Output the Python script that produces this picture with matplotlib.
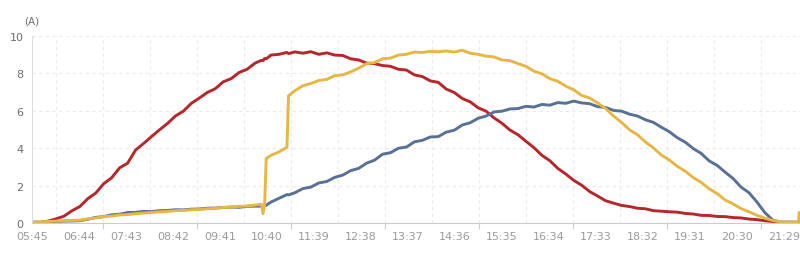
import matplotlib
matplotlib.use("Agg")
import matplotlib.pyplot as plt
import numpy as np

nan = float("nan")

times = [
    "05:45", "05:55", "06:05", "06:15", "06:25", "06:35", "06:45", "06:55", "07:05", "07:15",
    "07:25", "07:35", "07:45", "07:55", "08:05", "08:15", "08:25", "08:35", "08:45", "08:55",
    "09:05", "09:15", "09:25", "09:35", "09:45", "09:55", "10:05", "10:15", "10:25",
    "10:33", "10:35", "10:37", "10:39",
    "10:45", "10:55", "11:05",
    "11:07",
    "11:15", "11:25", "11:35", "11:45", "11:55", "12:05", "12:15", "12:25", "12:35", "12:45",
    "12:55", "13:05", "13:15", "13:25", "13:35", "13:45", "13:55", "14:05", "14:15", "14:25",
    "14:35", "14:45", "14:55", "15:05", "15:15", "15:25", "15:35", "15:45", "15:55", "16:05",
    "16:15", "16:25", "16:35", "16:45", "16:55", "17:05", "17:15", "17:25", "17:35", "17:45",
    "17:55", "18:05", "18:15", "18:25", "18:35", "18:45", "18:55", "19:05", "19:15", "19:25",
    "19:35", "19:45", "19:55", "20:05", "20:15", "20:25", "20:35", "20:45", "20:55", "21:05",
    "21:15", "21:25", "21:35", "21:45",
    "21:47", "21:48",
]

red = [
    0.0, 0.02, 0.1, 0.22, 0.36, 0.65, 0.88, 1.3, 1.6, 2.1,
    2.42, 2.95, 3.2, 3.9, 4.25, 4.62, 4.98, 5.32, 5.72, 5.98,
    6.4, 6.68, 6.98, 7.18, 7.55, 7.72, 8.05, 8.22, 8.55,
    8.7, 8.68, 8.8, 8.78,
    8.98, 9.02, 9.12,
    9.06,
    9.15, 9.08, 9.16, 9.02, 9.1, 8.98, 8.96, 8.78, 8.72, 8.55,
    8.52, 8.42, 8.38, 8.22, 8.18, 7.92, 7.83, 7.6, 7.52, 7.16,
    6.98, 6.66, 6.48, 6.16, 5.98, 5.62, 5.33, 4.97, 4.72, 4.37,
    4.03, 3.62, 3.33, 2.92, 2.62, 2.28, 2.02, 1.68, 1.44, 1.19,
    1.06, 0.94, 0.88, 0.79, 0.76, 0.66, 0.63, 0.6, 0.58, 0.51,
    0.48, 0.41, 0.4, 0.35, 0.34, 0.29, 0.27, 0.21, 0.18, 0.12,
    0.08, 0.03, 0.02, nan,
    nan, nan,
]

yellow = [
    0.03, 0.05, 0.08, 0.1, 0.12, 0.14, 0.15, 0.22, 0.27, 0.34,
    0.37, 0.43, 0.45, 0.5, 0.53, 0.56, 0.6, 0.62, 0.66, 0.67,
    0.71, 0.72, 0.76, 0.78, 0.83, 0.85, 0.89, 0.91, 0.96,
    1.0, 0.5, 1.0, 3.45,
    3.62, 3.8, 4.05,
    6.8,
    7.08, 7.34, 7.46, 7.62, 7.68, 7.88, 7.92, 8.08, 8.28, 8.52,
    8.58, 8.78, 8.82, 8.98, 9.02, 9.14, 9.12, 9.18, 9.16, 9.2,
    9.14, 9.24, 9.08, 9.02, 8.92, 8.88, 8.72, 8.68, 8.52, 8.38,
    8.12, 7.98, 7.72, 7.58, 7.32, 7.12, 6.82, 6.68, 6.42, 6.12,
    5.72, 5.38, 4.98, 4.72, 4.33, 4.02, 3.63, 3.37, 3.03, 2.77,
    2.43, 2.17, 1.83, 1.57, 1.23, 1.02, 0.77, 0.6, 0.41, 0.26,
    0.13, 0.06, 0.04, 0.05,
    0.05, 0.55,
]

blue = [
    0.05, 0.05, 0.06, 0.08, 0.1, 0.11, 0.12, 0.2, 0.3, 0.34,
    0.44, 0.47, 0.56, 0.57, 0.62, 0.61, 0.66, 0.67, 0.71, 0.7,
    0.74, 0.75, 0.79, 0.8, 0.83, 0.85, 0.84, 0.89, 0.9,
    0.9, 0.88, 0.92, 0.95,
    1.12, 1.32, 1.52,
    1.5,
    1.62, 1.84, 1.92, 2.14, 2.22, 2.44, 2.56, 2.8, 2.92, 3.2,
    3.36, 3.68, 3.76, 4.0, 4.06, 4.34, 4.42, 4.6, 4.62, 4.86,
    4.96, 5.24, 5.36, 5.6, 5.72, 5.94, 5.98, 6.1, 6.12, 6.24,
    6.2, 6.34, 6.3, 6.44, 6.4, 6.52, 6.42, 6.38, 6.22, 6.18,
    6.02, 5.98, 5.82, 5.72, 5.52, 5.38, 5.12, 4.88, 4.56, 4.32,
    3.98, 3.72, 3.32, 3.08, 2.72, 2.38, 1.92, 1.62, 1.12, 0.55,
    0.15, 0.05, 0.05, 0.05,
    0.05, 0.05,
]

tick_labels = ["05:45", "06:44", "07:43", "08:42", "09:41", "10:40", "11:39", "12:38",
               "13:37", "14:36", "15:35", "16:34", "17:33", "18:32", "19:31", "20:30", "21:29"]
y_ticks = [0, 2, 4, 6, 8, 10]


def to_min(s):
    h, m = s.split(":")
    return int(h) * 60 + int(m) - (5 * 60 + 45)


x = np.array([to_min(t) for t in times])
tick_pos = np.array([to_min(t) for t in tick_labels])
mids = (tick_pos[:-1] + tick_pos[1:]) / 2.0

grid_c = "#ebebeb"

fig = plt.figure(figsize=(8, 2.55), dpi=100)
ax = fig.add_axes([32 / 800, 31 / 255, 1 - 32 / 800, 187 / 255])

ax.plot(x, red, color="#b5272b", lw=2.1, solid_joinstyle="round")
ax.plot(x, blue, color="#5a7196", lw=2.1, solid_joinstyle="round")
ax.plot(x, yellow, color="#e6b745", lw=2.1, solid_joinstyle="round")

ax.set_xlim(0, 964)
ax.set_ylim(0, 10)

ax.set_yticks(y_ticks)
ax.set_xticks(tick_pos)
ax.set_xticklabels(tick_labels)
ax.set_xticks(mids[1::2], minor=True)

for v in y_ticks[1:]:
    ax.axhline(v, color=grid_c, lw=0.8, ls=(0, (3, 3)), zorder=0)
for m in mids:
    ax.axvline(m, color=grid_c, lw=0.8, ls=(0, (3, 3)), zorder=0)

for s in ["top", "right"]:
    ax.spines[s].set_visible(False)
ax.spines["left"].set_color("#dddddd")
ax.spines["bottom"].set_color("#cccccc")
ax.spines["left"].set_linewidth(0.8)
ax.spines["bottom"].set_linewidth(0.8)

ax.tick_params(axis="y", length=0, pad=6, labelsize=8, labelcolor="#6e6e6e")
ax.tick_params(axis="x", which="major", length=0, pad=6, labelsize=8, labelcolor="#9a9a9a")
ax.tick_params(axis="x", which="minor", length=4, color="#cccccc", width=0.8)

fig.text(32 / 800, 1 - 21 / 255, "(A)", ha="center", va="center", fontsize=7.5, color="#6e6e6e")

fig.savefig("out.png", dpi=100)
